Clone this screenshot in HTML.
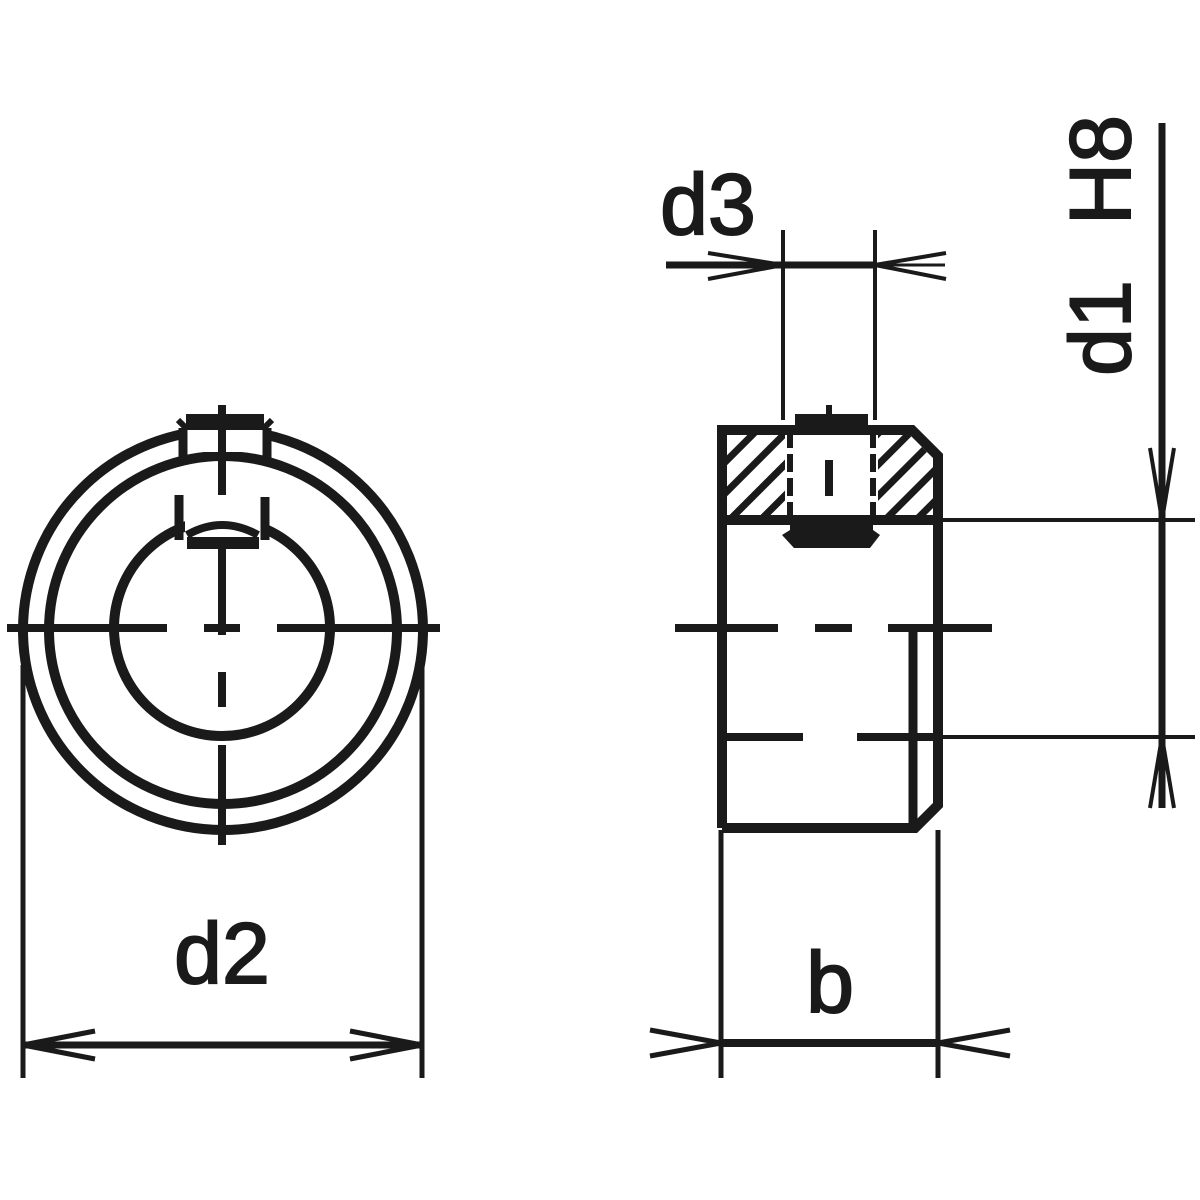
<!DOCTYPE html>
<html><head><meta charset="utf-8"><style>html,body{margin:0;padding:0;background:#fff}svg{display:block}</style></head>
<body>
<svg width="1200" height="1200" viewBox="0 0 1200 1200" xmlns="http://www.w3.org/2000/svg">
<defs>
<pattern id="h" patternUnits="userSpaceOnUse" width="22" height="22" patternTransform="rotate(45)">
<rect x="0" y="0" width="7" height="22" fill="#1a1a1a"/>
</pattern>
<clipPath id="cl"><rect x="727" y="435" width="58" height="83"/></clipPath>
</defs>
<g stroke="#1a1a1a" fill="none">
<circle cx="223" cy="630" r="200" stroke-width="10"/>
<circle cx="223" cy="630" r="174" stroke-width="10"/>
<circle cx="222" cy="628" r="108" stroke-width="10"/>
<rect x="183" y="430" width="84" height="22" fill="#fff" stroke="none"/>
<rect x="186" y="414" width="78" height="16" fill="#1a1a1a" stroke="none"/>
<line x1="178" y1="420" x2="186" y2="428" stroke-width="6"/>
<line x1="272" y1="420" x2="264" y2="428" stroke-width="6"/>
<line x1="183" y1="428" x2="183" y2="458" stroke-width="9"/>
<line x1="267" y1="428" x2="267" y2="458" stroke-width="9"/>
<rect x="185" y="510" width="80" height="30" fill="#fff" stroke="none"/>
<line x1="179" y1="495" x2="179" y2="540" stroke-width="9"/>
<line x1="265" y1="497" x2="265" y2="540" stroke-width="9"/>
<path d="M187,535 Q222,515 258,535" stroke-width="8"/>
<rect x="187" y="537" width="72" height="12" fill="#1a1a1a" stroke="none"/>
<line x1="7" y1="628" x2="167" y2="628" stroke-width="8"/>
<line x1="204" y1="628" x2="240" y2="628" stroke-width="8"/>
<line x1="277" y1="628" x2="440" y2="628" stroke-width="8"/>
<line x1="222" y1="405" x2="222" y2="495" stroke-width="8"/>
<line x1="222" y1="538" x2="222" y2="635" stroke-width="8"/>
<line x1="222" y1="672" x2="222" y2="707" stroke-width="8"/>
<line x1="222" y1="745" x2="222" y2="845" stroke-width="8"/>
<line x1="23" y1="665" x2="23" y2="1078" stroke-width="5"/>
<line x1="422" y1="665" x2="422" y2="1078" stroke-width="5"/>
<line x1="23" y1="1045" x2="422" y2="1045" stroke-width="7"/>
<polyline points="95,1031 23,1045 95,1059" stroke-width="5"/>
<polyline points="350,1031 422,1045 350,1059" stroke-width="5"/>

<rect x="727" y="435" width="58" height="83" fill="url(#h)" stroke="none" clip-path="url(#cl)"/>
<polygon points="878,435 910,435 933,458 933,518 878,518" fill="url(#h)" stroke="none"/>
<polyline points="722,828 722,430 912,430 938,456 938,805 915,828 722,828" stroke-width="10"/>
<line x1="913" y1="628" x2="913" y2="830" stroke-width="9"/>
<line x1="727" y1="520" x2="938" y2="520" stroke-width="10"/>
<line x1="790" y1="430" x2="790" y2="520" stroke-width="6" stroke-dasharray="18,6"/>
<line x1="873" y1="430" x2="873" y2="520" stroke-width="6" stroke-dasharray="18,6"/>
<rect x="795" y="414" width="73" height="16" fill="#1a1a1a" stroke="none"/>
<line x1="829" y1="405" x2="829" y2="414" stroke-width="6"/>
<rect x="790" y="515" width="83" height="22" fill="#1a1a1a" stroke="none"/>
<polygon points="782,535 790,530 873,530 880,535 870,548 794,548" fill="#1a1a1a" stroke="none"/>
<line x1="829" y1="460" x2="829" y2="496" stroke-width="8"/>
<line x1="675" y1="628" x2="778" y2="628" stroke-width="8"/>
<line x1="815" y1="628" x2="852" y2="628" stroke-width="8"/>
<line x1="888" y1="628" x2="992" y2="628" stroke-width="8"/>
<line x1="727" y1="737" x2="803" y2="737" stroke-width="8"/>
<line x1="857" y1="737" x2="938" y2="737" stroke-width="8"/>
<line x1="938" y1="737" x2="1195" y2="737" stroke-width="4"/>
<line x1="938" y1="520" x2="1195" y2="520" stroke-width="4"/>
<line x1="1162" y1="123" x2="1162" y2="808" stroke-width="7"/>
<polyline points="1150,448 1162,520 1174,448" stroke-width="4"/>
<polyline points="1150,808 1162,737 1174,808" stroke-width="4"/>
<line x1="783" y1="230" x2="783" y2="420" stroke-width="4"/>
<line x1="875" y1="230" x2="875" y2="420" stroke-width="4"/>
<line x1="666" y1="265" x2="875" y2="265" stroke-width="7"/>
<line x1="875" y1="265" x2="945" y2="265" stroke-width="3"/>
<polyline points="708,253 783,265 708,279" stroke-width="4"/>
<polyline points="946,253 875,265 946,279" stroke-width="4"/>
<line x1="721" y1="830" x2="721" y2="1078" stroke-width="5"/>
<line x1="938" y1="830" x2="938" y2="1078" stroke-width="5"/>
<line x1="721" y1="1043" x2="938" y2="1043" stroke-width="8"/>
<polyline points="650,1030 721,1043 650,1056" stroke-width="5"/>
<polyline points="1010,1030 938,1043 1010,1056" stroke-width="5"/>
</g>
<g font-family="Liberation Sans, sans-serif" fill="#1a1a1a" stroke="#1a1a1a" stroke-width="2">
<text x="222" y="983" font-size="86" text-anchor="middle">d2</text>
<text x="708" y="234" font-size="86" text-anchor="middle">d3</text>
<text x="830" y="1012" font-size="86" text-anchor="middle">b</text>
<text transform="translate(1130,170) rotate(-90)" font-size="86" text-anchor="middle">H8</text>
<text transform="translate(1130,328) rotate(-90)" font-size="86" text-anchor="middle">d1</text>
</g>
</svg>
</body></html>
